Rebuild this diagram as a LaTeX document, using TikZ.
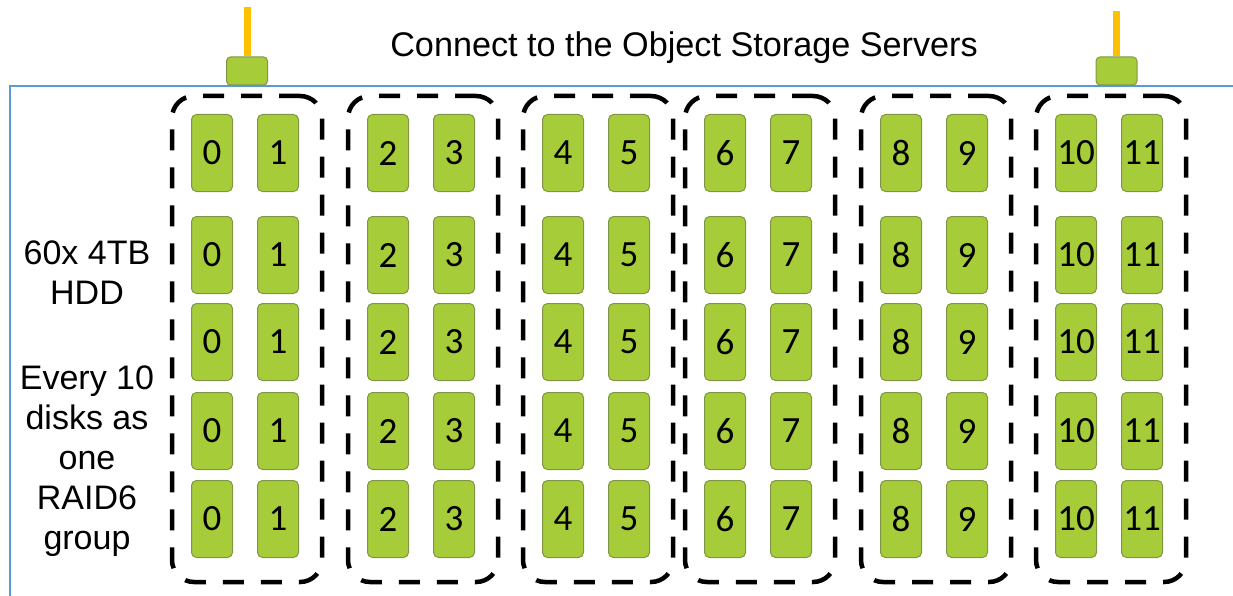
\documentclass[tikz,border=0pt]{standalone}
\usepackage{fontspec}
\setmainfont{Liberation Sans}
\newfontfamily\diskfont{Carlito}
\usetikzlibrary{positioning,fit}
\definecolor{diskGreen}{RGB}{166,204,57}
\definecolor{diskEdge}{RGB}{128,150,70}
\definecolor{frameBlue}{RGB}{91,155,213}
\definecolor{cableGold}{RGB}{255,192,0}
\tikzset{
    disk/.style={
           rectangle,
           rounded corners=5pt,
           draw=diskEdge, fill=diskGreen, line width=1pt,
           minimum width=41pt,
           minimum height=77pt,
           inner sep=0pt,
           font=\diskfont\fontsize{37}{42}\selectfont},
    port/.style={
           rectangle,
           rounded corners=4pt,
           draw=diskEdge, fill=diskGreen, line width=1pt,
           minimum width=41pt,
           minimum height=28pt,
           inner sep=0pt},
    raidGroup/.style={
           rectangle,
           draw=black, line width=4.5pt,
           dash pattern=on 21pt off 17pt,
           rounded corners=22pt,
           inner xsep=21pt, inner ysep=21pt},
    sideText/.style={
           align=center,
           inner sep=0pt,
           font=\fontsize{34}{40}\selectfont},
    cable/.style={
           draw=cableGold, line width=7pt}
}
\begin{document}
\begin{tikzpicture}[x=1pt, y=-1pt]
	\useasboundingbox (0,0) rectangle (1233,596);
	\draw[frameBlue, line width=2.5pt] (1233,86) -| (10,596);
	\node[anchor=base, font=\fontsize{34.2}{40}\selectfont] (Title) at (684,57) {Connect to the Object Storage Servers};
	\node[port] (PortL) at (247,71) {};
	\node[port] (PortR) at (1116.5,71) {};
	\coordinate[above=49pt of PortL.north] (FeedL);
	\coordinate[above=45pt of PortR.north] (FeedR);
	\draw[cable] (PortL) -- (FeedL);
	\draw[cable] (PortR) -- (FeedR);
	\node[sideText] (Capacity) at (87,273) {60x 4TB\\HDD};
	\node[sideText] (RaidNote) at (87,461) {Every 10\\disks as\\one\\RAID6\\group};
	\foreach \g/\x in {0/212,1/388,2/563,3/725,4/901,5/1076}{
		\pgfmathtruncatemacro{\a}{2*\g}
		\pgfmathtruncatemacro{\b}{2*\g+1}
		\foreach \r/\y in {1/153,2/255,3/342,4/431,5/519}{
			\node[disk] (Disk-\r-\a) at (\x,\y) {\a};
			\node[disk, right=24pt of Disk-\r-\a] (Disk-\r-\b) {\b};
		}
		\node[raidGroup, fit=(Disk-1-\a)(Disk-5-\b), xshift=2pt, yshift=-3pt] (Group\g) {};
	}
\end{tikzpicture}
\end{document}
